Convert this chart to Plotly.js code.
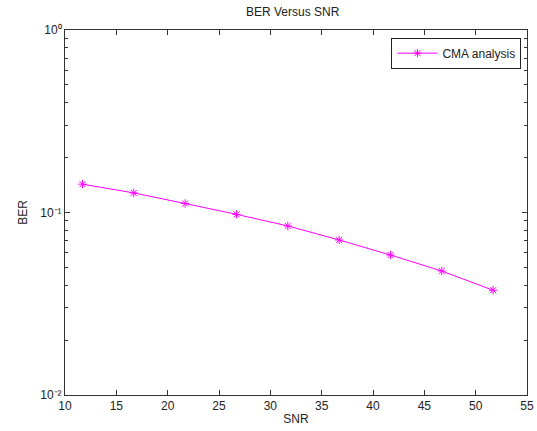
<!DOCTYPE html>
<html>
<head>
<meta charset="utf-8">
<script src="https://cdn.plot.ly/plotly-3.0.1.min.js"></script>
<style>html,body{margin:0;padding:0;background:#fff;}#chart{width:537px;height:431px;}</style>
</head>
<body>
<div id="chart"></div>
<script>
var snr = [11.7, 16.7, 21.7, 26.7, 31.7, 36.7, 41.7, 46.7, 51.7];
var ber = [0.143, 0.128, 0.112, 0.0977, 0.0844, 0.0707, 0.0585, 0.0478, 0.0375];
var xTicks = [10, 15, 20, 25, 30, 35, 40, 45, 50, 55];
var yTicks = [0.01, 0.1, 1];
var yTickText = ['10\u207B\u00B2', '10\u207B\u00B9', '10\u2070'];
var yMinor = [];
[0.01, 0.1].forEach(function (d) { for (var k = 2; k <= 9; k++) yMinor.push(d * k); });

var trace = {
  x: snr, y: ber, type: 'scatter', mode: 'lines+markers', name: 'CMA analysis',
  line: {color: '#ff00ff', width: 1},
  marker: {symbol: 'asterisk-open', size: 7, color: '#ff00ff', line: {color: '#ff00ff', width: 1}}
};

var axisFont = {family: 'Liberation Sans, Arial, sans-serif', size: 12, color: '#222'};
var layout = {
  width: 537, height: 431,
  margin: {l: 65, r: 10, t: 30, b: 36},
  paper_bgcolor: '#fff', plot_bgcolor: '#fff',
  font: axisFont,
  showlegend: true,
  title: {text: 'BER Versus SNR', font: axisFont, x: 0.545, xanchor: 'center', y: 0.972, yanchor: 'middle'},
  xaxis: {
    range: [10, 55], tickmode: 'array', tickvals: xTicks,
    ticks: 'inside', ticklen: 5, tickcolor: '#333', showline: true, linecolor: '#333', linewidth: 1,
    mirror: 'ticks', showgrid: false, zeroline: false, tickfont: axisFont,
    title: {text: 'SNR', font: axisFont, standoff: 2}
  },
  yaxis: {
    type: 'log', range: [-2, 0], tickmode: 'array', tickvals: yTicks, ticktext: yTickText,
    ticks: 'inside', ticklen: 5, tickcolor: '#333', showline: true, linecolor: '#333', linewidth: 1,
    mirror: 'ticks', showgrid: false, zeroline: false, tickfont: axisFont,
    minor: {tickmode: 'array', tickvals: yMinor, ticks: 'inside', ticklen: 3, tickcolor: '#333', showgrid: false},
    title: {text: 'BER', font: axisFont, standoff: 10}
  },
  legend: {
    x: 0.988, y: 0.979, xanchor: 'right', yanchor: 'top',
    bgcolor: '#fff', bordercolor: '#222', borderwidth: 1,
    font: axisFont, itemwidth: 40
  }
};

Plotly.newPlot('chart', [trace], layout, {staticPlot: true, displayModeBar: false});
</script>
</body>
</html>
